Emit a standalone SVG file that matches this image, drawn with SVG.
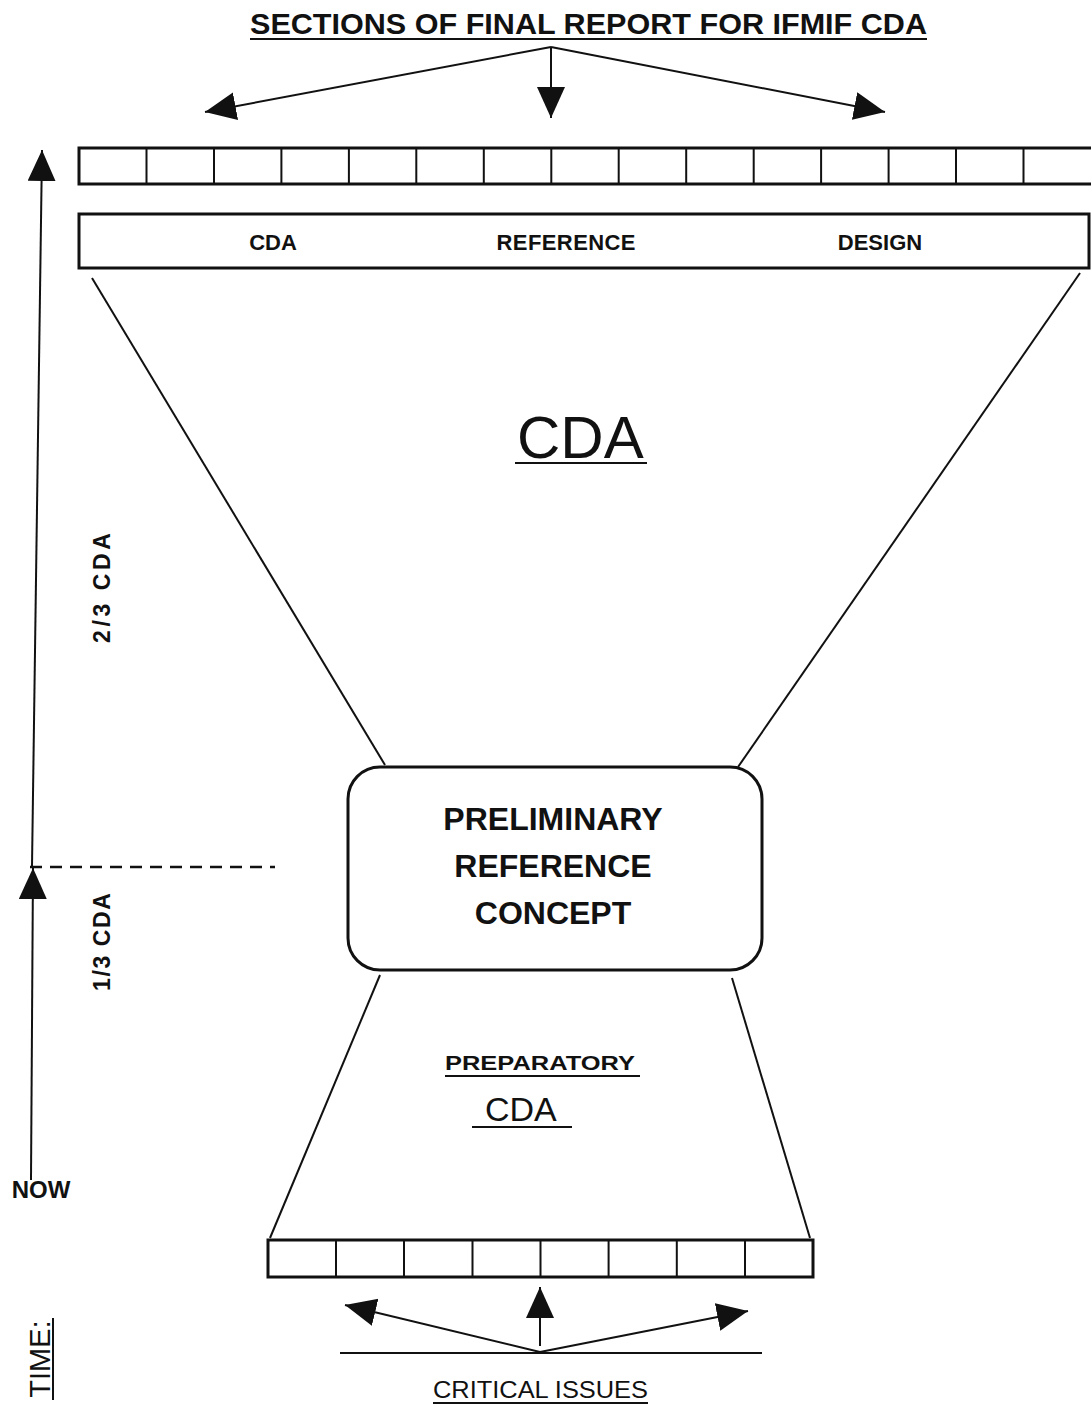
<svg xmlns="http://www.w3.org/2000/svg" width="1091" height="1407" viewBox="0 0 1091 1407">
<defs>
<style>
text{font-family:"Liberation Sans",Arial,sans-serif;fill:#111}
.b{font-weight:bold}
.ln{stroke:#111;stroke-width:2;fill:none}
.bar{stroke:#111;stroke-width:3;fill:#fff}
.ul{stroke:#111;stroke-width:2}
</style>
<marker id="ah" markerUnits="userSpaceOnUse" markerWidth="34" markerHeight="30" refX="31" refY="14" orient="auto" viewBox="0 0 34 30">
<path d="M0,0 L31,14 L0,28 z" fill="#111"/>
</marker>
</defs>
<rect width="1091" height="1407" fill="#fff"/>

<g id="title">
<text class="b" x="250" y="34" font-size="30" textLength="677" lengthAdjust="spacingAndGlyphs">SECTIONS OF FINAL REPORT FOR IFMIF CDA</text>
<line class="ul" x1="250" y1="39" x2="927" y2="39"/>
</g>

<g id="sections-bar">
<rect class="bar" x="79" y="148" width="1014" height="36"/>
<path class="ln" stroke-width="3" d="M146.5,148V184M214,148V184M281.4,148V184M348.9,148V184M416.3,148V184M483.8,148V184M551.3,148V184M618.7,148V184M686.2,148V184M753.7,148V184M821.1,148V184M888.6,148V184M956,148V184M1023.5,148V184"/>
</g>

<g id="reference-design-bar">
<rect class="bar" x="79" y="214" width="1010" height="54"/>
<text class="b" x="273" y="250" font-size="22" text-anchor="middle">CDA</text>
<text class="b" x="566" y="250" font-size="22" text-anchor="middle" textLength="139">REFERENCE</text>
<text class="b" x="880" y="250" font-size="22" text-anchor="middle">DESIGN</text>
</g>

<g id="cda-label">
<text x="517" y="458" font-size="60">CDA</text>
<line class="ul" x1="515" y1="463" x2="647" y2="463"/>
</g>

<g id="preliminary-reference-concept">
<rect x="348" y="767" width="414" height="203" rx="32" ry="32" fill="#fff" stroke="#111" stroke-width="3"/>
<text class="b" x="553" y="830" font-size="32" text-anchor="middle">PRELIMINARY</text>
<text class="b" x="553" y="877" font-size="32" text-anchor="middle">REFERENCE</text>
<text class="b" x="553" y="924" font-size="32" text-anchor="middle">CONCEPT</text>
</g>

<g id="preparatory-cda">
<text class="b" x="445" y="1070" font-size="20" textLength="190" lengthAdjust="spacingAndGlyphs">PREPARATORY</text>
<line class="ul" x1="445" y1="1076" x2="640" y2="1076"/>
<text x="485" y="1121" font-size="34">CDA</text>
<line class="ul" x1="472" y1="1127" x2="572" y2="1127"/>
</g>

<g id="critical-issues-bar">
<rect class="bar" x="268" y="1240" width="545" height="37"/>
<path class="ln" stroke-width="3" d="M336,1240V1277M404,1240V1277M472.5,1240V1277M540.5,1240V1277M608.6,1240V1277M676.8,1240V1277M745,1240V1277"/>
</g>

<g id="critical-issues">
<line class="ln" x1="340" y1="1353" x2="762" y2="1353"/>
<text x="433" y="1398" font-size="24" textLength="215" lengthAdjust="spacingAndGlyphs">CRITICAL ISSUES</text>
<line class="ul" x1="433" y1="1403" x2="648" y2="1403"/>
</g>

<g id="time-axis">
<text class="b" transform="translate(110,588) rotate(-90)" font-size="23" text-anchor="middle" textLength="110">2/3 CDA</text>
<text class="b" transform="translate(110,942) rotate(-90)" font-size="23" text-anchor="middle" textLength="98">1/3 CDA</text>
<text x="41" y="1198" font-size="24" class="b" text-anchor="middle">NOW</text>
<text transform="translate(50,1359) rotate(-90)" font-size="29" text-anchor="middle">TIME:</text>
<line class="ul" x1="53" y1="1318" x2="53" y2="1400"/>
<line x1="30" y1="867" x2="275" y2="867" stroke="#111" stroke-width="2.5" stroke-dasharray="12,8"/>
</g>

<g id="connectors">
<line class="ln" x1="92" y1="278" x2="385" y2="765"/>
<line class="ln" x1="1080" y1="273" x2="738" y2="767"/>
<line class="ln" x1="380" y1="975" x2="270" y2="1238"/>
<line class="ln" x1="732" y1="978" x2="810" y2="1238"/>

<line class="ln" stroke-width="2.5" x1="551" y1="47" x2="205" y2="112" marker-end="url(#ah)"/>
<line class="ln" stroke-width="2.5" x1="551" y1="47" x2="551" y2="118" marker-end="url(#ah)"/>
<line class="ln" stroke-width="2.5" x1="551" y1="47" x2="885" y2="112" marker-end="url(#ah)"/>

<line class="ln" stroke-width="2.5" x1="540" y1="1352" x2="345" y2="1305" marker-end="url(#ah)"/>
<line class="ln" stroke-width="2.5" x1="540" y1="1346" x2="540" y2="1287" marker-end="url(#ah)"/>
<line class="ln" stroke-width="2.5" x1="540" y1="1352" x2="748" y2="1311" marker-end="url(#ah)"/>

<line class="ln" x1="32" y1="866" x2="42" y2="150" marker-end="url(#ah)"/>
<line class="ln" x1="31" y1="1180" x2="33" y2="868" marker-end="url(#ah)"/>
</g>
</svg>
